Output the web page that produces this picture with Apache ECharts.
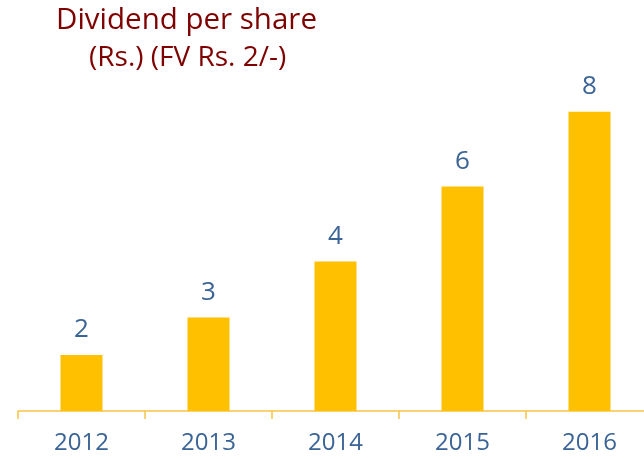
<!DOCTYPE html>
<html><head><meta charset="utf-8">
<script src="https://cdn.jsdelivr.net/npm/echarts@6/dist/echarts.min.js"></script>
<style>html,body{margin:0;padding:0;background:#fff}#c{width:644px;height:459px}</style>
</head><body><div id="c"></div>
<script>
const categories = ['2012','2013','2014','2015','2016'];
const dividendValues = [1.5, 2.5, 4, 6, 8];
const titleText = 'Dividend per share';
const subtitleText = '(Rs.) (FV Rs. 2/-)';

const chart = echarts.init(document.getElementById('c'));
chart.setOption({
  animation: false,
  title: [{
    text: titleText,
    left: 51, top: 1,
    textStyle: {fontFamily: 'Open Sans', fontSize: 29.5, fontWeight: 'normal', color: '#7F0000'}
  }, {
    text: subtitleText,
    left: 84, top: 39,
    textStyle: {fontFamily: 'Open Sans', fontSize: 28, fontWeight: 'normal', color: '#7F0000'}
  }],
  grid: {left: 18, width: 635, top: 37, bottom: 48, outerBoundsMode: 'none', containLabel: false},
  xAxis: {
    type: 'category', data: categories,
    axisLine: {lineStyle: {color: '#F6C445', width: 1.5}},
    axisTick: {show: true, interval: 0, length: 8, lineStyle: {color: '#F6C445', width: 1.5}},
    axisLabel: {margin: 20, fontFamily: 'Open Sans', fontSize: 24, color: '#3B6496'}
  },
  yAxis: {type: 'value', min: 0, max: 10, show: false, splitLine: {show: false}},
  series: [{
    type: 'bar', data: dividendValues, barWidth: 42,
    itemStyle: {color: '#FFC000'},
    label: {show: true, position: 'top', distance: 12,
      formatter: p => Math.round(p.value).toString(),
      fontFamily: 'Open Sans', fontSize: 26, color: '#3B6496'}
  }]
});
</script></body></html>
